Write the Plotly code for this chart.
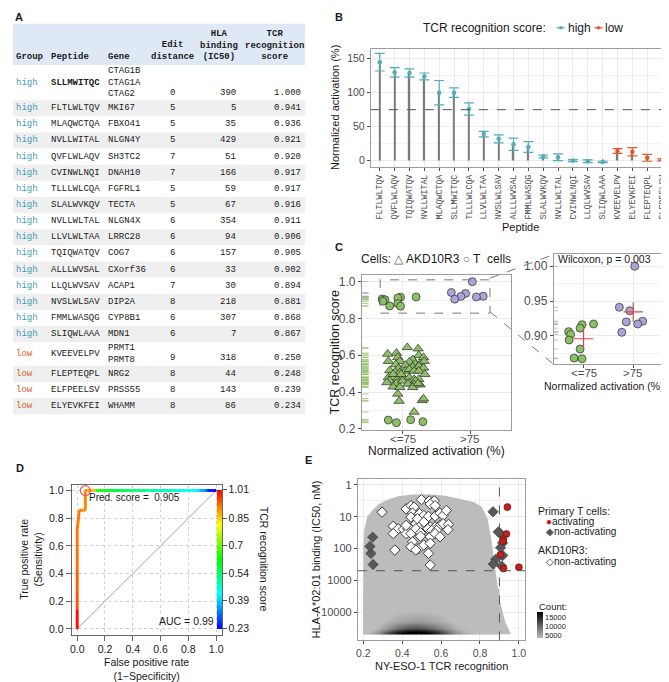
import numpy as np
import plotly.graph_objects as go
from plotly.colors import sample_colorscale

W, H = 669, 682
SANS = "Liberation Sans, Arial, Helvetica, sans-serif"
MONO = "Liberation Mono, Courier New, monospace"
TEXT = "#1a1a1a"
TICK = "#4d4d4d"
TEAL = "#52adb9"
TEAL_TXT = "#3f9db3"
ORANGE = "#de5b28"
GREEN = "#8dc066"
PURPLE = "#aaa5d6"
RED = "#c41d1d"

# ---------------- Panel A: table ----------------
groups = ["high"] * 16 + ["low"] * 4
peptides = ["SLLMWITQC", "FLTLWLTQV", "MLAQWCTQA", "NVLLWITAL", "QVFLWLAQV", "CVINWLNQI",
            "TLLLWLCQA", "SLALWVKQV", "NVLLWLTAL", "LLVLWLTAA", "TQIQWATQV", "ALLLWVSAL",
            "LLQLWVSAV", "NVSLWLSAV", "FMMLWASQG", "SLIQWLAAA", "KVEEVELPV", "FLEPTEQPL",
            "ELFPEELSV", "ELYEVKFEI"]
genes = ["CTAG1B<br>CTAG1A<br>CTAG2", "MKI67", "FBXO41", "NLGN4Y", "SH3TC2", "DNAH10", "FGFRL1",
         "TECTA", "NLGN4X", "LRRC28", "COG7", "CXorf36", "ACAP1", "DIP2A", "CYP8B1", "MDN1",
         "PRMT1<br>PRMT8", "NRG2", "PRSS55", "WHAMM"]
edit_dist = [0, 5, 5, 5, 7, 7, 5, 5, 6, 6, 6, 6, 7, 8, 6, 6, 9, 8, 8, 8]
hla_ic50 = [390, 5, 35, 429, 51, 166, 59, 67, 354, 94, 157, 33, 30, 218, 307, 7, 318, 44, 143, 86]
tcr_score = [1.000, 0.941, 0.936, 0.921, 0.920, 0.917, 0.917, 0.916, 0.911, 0.906, 0.905, 0.902,
             0.894, 0.881, 0.868, 0.867, 0.250, 0.248, 0.239, 0.234]

# ---------------- Panel B ----------------
b_peptides = ["FLTLWLTQV", "QVFLWLAQV", "TQIQWATQV", "NVLLWITAL", "MLAQWCTQA", "SLLMWITQC",
              "TLLLWLCQA", "LLVLWLTAA", "NVSLWLSAV", "ALLLWVSAL", "FMMLWASQG", "SLALWVKQV",
              "NVLLWLTAL", "CVINWLNQI", "LLQLWVSAV", "SLIQWLAAA", "KVEEVELPV", "ELYEVKFEI",
              "FLEPTEQPL", "ELFPEELSV"]
b_activation = [145, 130, 129, 124, 100, 100, 76, 39, 32, 24, 20, 6, 5, 0, -1, -2, 14, 13, 4, 1]
b_error = [13, 7, 6, 5, 18, 7, 9, 4, 6, 9, 8, 2, 5, 1.5, 2, 1, 3.5, 6, 5, 1.5]
b_group = ["high"] * 16 + ["low"] * 4

# ---------------- Panel C ----------------
c_categories = ["&lt;=75", "&gt;75"]
c_tcell_jitter = [0.03, -0.28, -0.07, 0.19, -0.14, 0.20, 0.09, -0.03, -0.07, -0.30, -0.23,
                  -0.26, -0.29, -0.07, -0.19, -0.03, 0.12, -0.21, 0.30, -0.09]
akd_score = [0.643, 0.636, 0.612, 0.607, 0.589, 0.600, 0.589, 0.577, 0.568, 0.568, 0.564, 0.554,
             0.554, 0.568, 0.550, 0.547, 0.536, 0.541, 0.532, 0.529, 0.518, 0.509, 0.506, 0.515,
             0.524, 0.515, 0.515, 0.497, 0.479, 0.479, 0.470, 0.483, 0.479, 0.470, 0.470, 0.452,
             0.461, 0.461, 0.447, 0.461, 0.444, 0.440, 0.440, 0.429, 0.426, 0.426, 0.447, 0.390,
             0.351, 0.355, 0.364, 0.292, 0.497, 0.452, 0.497]
akd_jitter = [0.07, 0.23, -0.09, -0.22, -0.07, 0.24, 0.31, 0.15, -0.21, -0.04, 0.10, 0.19,
              0.26, 0.32, -0.10, 0.04, 0.15, 0.24, 0.31, -0.06, -0.19, -0.11, -0.04, 0.04,
              0.10, 0.17, 0.24, 0.33, -0.21, -0.14, -0.07, 0.01, 0.10, 0.17, 0.24, 0.10,
              0.19, -0.19, -0.09, 0.00, 0.08, 0.17, 0.26, -0.14, -0.04, 0.15, 0.23, -0.07,
              -0.05, 0.29, 0.31, 0.17, -0.14, -0.23, -0.02]
wilcox_label = "Wilcoxon, p = 0.003"

# ---------------- Panel D ----------------
auc_label = "AUC = 0.99"
pred_cutoff = 0.905
cutoff_ticks = [1.01, 0.85, 0.7, 0.54, 0.39, 0.23]

# ---------------- Panel E ----------------
e_akd_score = [0.296, 0.42, 0.445, 0.461, 0.499, 0.539, 0.565, 0.544, 0.569, 0.453, 0.478, 0.445,
               0.489, 0.511, 0.535, 0.569, 0.594, 0.61, 0.627, 0.354, 0.379, 0.406, 0.428, 0.453,
               0.47, 0.486, 0.523, 0.544, 0.569, 0.594, 0.61, 0.638, 0.42, 0.445, 0.47, 0.494,
               0.532, 0.552, 0.577, 0.635, 0.354, 0.453, 0.494, 0.544, 0.569, 0.594, 0.445, 0.486,
               0.47, 0.511, 0.535, 0.544, 0.362, 0.544, 0.478, 0.511, 0.42]
e_akd_ic50 = [7.2, 5.7, 4.5, 5.0, 2.9, 3.2, 3.2, 4.0, 4.5, 7.7, 9.2, 10.3, 8.1, 9.2, 9.8, 9.6, 7.7,
              9.2, 6.4, 20, 24, 25, 24, 21, 16.6, 21, 18.8, 21, 21, 18.8, 16.6, 17.5, 34, 34, 24,
              32, 24, 27, 27, 25.6, 34, 62, 41, 43, 34, 43, 88, 100, 112, 78, 142, 69, 112, 330,
              11.6, 14.7, 18.8]
cloud_x = [0.20, 0.20, 0.205, 0.22, 0.25, 0.28, 0.32, 0.38, 0.45, 0.55, 0.62, 0.70, 0.77, 0.81,
           0.84, 0.86, 0.88, 0.90, 0.93, 0.96]
cloud_ic50 = [50000, 80, 25, 10, 6, 4, 3, 2.3, 2.0, 2.0, 2.2, 2.8, 3.5, 5, 12, 60, 500, 4000,
              20000, 50000]
dens_x = [0.225, 0.275, 0.325, 0.375, 0.425, 0.475, 0.525, 0.575, 0.625, 0.675, 0.725, 0.775,
          0.825, 0.875]
dens_ic50 = [3200, 10000, 20000, 31600, 41700, 47900]
dens_count = [
    [1500, 1500, 1500, 1500, 1500, 1500, 1500, 1500, 1500, 1500, 1500, 1500, 1500, 1500],
    [1500, 2000, 2500, 3000, 3300, 3400, 3300, 3000, 2500, 2000, 1800, 1500, 1500, 1500],
    [1800, 2500, 3500, 4500, 5200, 5500, 5200, 4500, 3500, 2800, 2200, 1800, 1500, 1500],
    [2200, 3500, 6000, 9000, 11000, 11500, 10500, 8500, 6000, 4000, 2800, 2200, 1800, 1500],
    [3000, 5500, 10000, 14500, 17000, 17500, 16500, 13500, 9000, 5500, 3600, 2600, 2000, 1500],
    [3200, 6500, 12000, 16500, 17500, 17500, 17500, 15000, 10500, 6500, 4000, 2800, 2000, 1500],
]
count_ticks = [5000, 10000, 15000]
e_ic50_cut = 500
e_score_cut = 0.9


def fx(x):
    return x / W


def fy(y):
    return 1 - y / H


annotations = []
shapes = []


def text(x, y, s, size=11, color=TEXT, xanchor="left", yanchor="middle", family=SANS, angle=0, align="left"):
    annotations.append(dict(x=fx(x), y=fy(y), xref="paper", yref="paper", text=s, showarrow=False,
                            xanchor=xanchor, yanchor=yanchor, textangle=angle, align=align,
                            font=dict(size=size, color=color, family=family)))


def rect_px(x0, y0, x1, y1, fill):
    shapes.append(dict(type="rect", xref="paper", yref="paper", x0=fx(x0), x1=fx(x1), y0=fy(y1), y1=fy(y0),
                       fillcolor=fill, line=dict(width=0), layer="below"))


def line_px(x0, y0, x1, y1, color, width=1, dash="solid"):
    shapes.append(dict(type="line", xref="paper", yref="paper", x0=fx(x0), x1=fx(x1), y0=fy(y0), y1=fy(y1),
                       line=dict(color=color, width=width, dash=dash)))


def axis_label(xref, xval, ypx, s, size):
    annotations.append(dict(x=xval, xref=xref, y=fy(ypx), yref="paper", text=s, showarrow=False,
                            xanchor="center", yanchor="middle", font=dict(size=size, color=TICK, family=SANS)))


fig = go.Figure()

# ================= Panel A (table) =================
text(3, 8, "<b>A</b>", size=11)
rect_px(3, 15, 297, 56.5, "#dfe9f6")
text(4, 48, "<b>Group</b>", 9, family=MONO)
text(39, 48, "<b>Peptide</b>", 9, family=MONO)
text(97, 48, "<b>Gene</b>", 9, family=MONO)
text(163, 42.5, "<b>Edit<br>distance</b>", 9, family=MONO, xanchor="center", align="center")
text(210, 37, "<b>HLA<br>binding<br>(IC50)</b>", 9, family=MONO, xanchor="center", align="center")
text(266, 37, "<b>TCR<br>recognition<br>score</b>", 9, family=MONO, xanchor="center", align="center")
top = 56.5
for i in range(len(peptides)):
    n = genes[i].count("<br>") + 1
    h = 16.3 if n == 1 else 11.7 * n + 0.5
    y0, y1 = top, top + h
    yc = (y0 + y1) / 2
    if i % 2 == 1:
        rect_px(3, y0, 297, y1, "#efefef")
    gcol = TEAL_TXT if groups[i] == "high" else ORANGE
    text(4, yc, groups[i], 9, color=gcol, family=MONO)
    pep = "<b>%s</b>" % peptides[i] if i == 0 else peptides[i]
    text(39, yc, pep, 9, family=MONO)
    text(97, yc, genes[i], 9, family=MONO)
    yn = y1 - 7.5 if n > 1 else yc
    text(163, yn, str(edit_dist[i]), 9, family=MONO, xanchor="center")
    text(229, yn, str(hla_ic50[i]), 9, family=MONO, xanchor="right")
    text(295, yn, "%.3f" % tcr_score[i], 9, family=MONO, xanchor="right")
    top = y1

# ================= Panel B =================
text(325, 8, "<b>B</b>", size=11)
fig.add_trace(go.Bar(x=b_peptides, y=b_activation, width=0.1, marker=dict(color="#7c7c7c", line=dict(width=0)),
                     xaxis="x", yaxis="y", hoverinfo="skip"))
for grp, col in (("high", TEAL), ("low", ORANGE)):
    idx = [i for i, g in enumerate(b_group) if g == grp]
    fig.add_trace(go.Scatter(x=[b_peptides[i] for i in idx], y=[b_activation[i] for i in idx], mode="markers",
                             marker=dict(color=col, size=4.5),
                             error_y=dict(type="data", array=[b_error[i] for i in idx], color=col,
                                          thickness=1.2, width=5),
                             xaxis="x", yaxis="y"))
shapes.append(dict(type="line", xref="x domain", yref="y", x0=0, x1=1, y0=75, y1=75,
                   line=dict(color="#555555", width=1, dash="dash")))
text(413, 19, "TCR recognition score:", 12)
for xs, col, lab in ((550, TEAL, "high"), (588, ORANGE, "low")):
    line_px(xs, 19, xs + 8, 19, col, 1.3)
    shapes.append(dict(type="circle", xref="paper", yref="paper", x0=fx(xs + 2.3), x1=fx(xs + 5.7),
                       y0=fy(20.7), y1=fy(17.3), fillcolor=col, line=dict(width=0)))
    text(xs + 9, 19, lab, 12)
text(514, 220, "Peptide", 11, xanchor="center")
text(327, 100, "Normalized activation (%)", 11, xanchor="center", angle=-90)

# ================= Panel C =================
text(325, 240, "<b>C</b>", size=11)
act = dict(zip(b_peptides, b_activation))
tc_cls = [1 if act[p] > 75 else 0 for p in peptides]
tc_x = [c + j for c, j in zip(tc_cls, c_tcell_jitter)]
tc_col = [PURPLE if c else GREEN for c in tc_cls]

for s in akd_score:
    shapes.append(dict(type="line", xref="x2 domain", yref="y2", x0=0, x1=0.045, y0=s, y1=s,
                       line=dict(color=GREEN, width=0.8)))
for s, c in zip(tcr_score, tc_cls):
    shapes.append(dict(type="line", xref="x2 domain", yref="y2", x0=0, x1=0.045, y0=s, y1=s,
                       line=dict(color=PURPLE if c else GREEN, width=0.8)))
fig.add_trace(go.Scatter(x=akd_jitter, y=akd_score, mode="markers",
                         marker=dict(symbol="triangle-up", size=9, color=GREEN,
                                     line=dict(color="#2b2b2b", width=0.7)),
                         xaxis="x2", yaxis="y2"))
fig.add_trace(go.Scatter(x=tc_x, y=tcr_score, mode="markers",
                         marker=dict(symbol="circle", size=8, color=tc_col,
                                     line=dict(color="#2b2b2b", width=0.7)),
                         xaxis="x2", yaxis="y2"))
shapes.append(dict(type="rect", xref="x2", yref="y2", x0=-0.33, x1=1.29, y0=0.829, y1=1.01,
                   line=dict(color="#777777", width=1, dash="dash")))
line_px(483, 272, 547, 248, "#777777", 1, "dash")
line_px(483, 306, 547, 359, "#777777", 1, "dash")
text(351, 253, "Cells: <span style='color:#666'>\u25b3</span> AKD10R3 <span style='color:#666'>\u25cb</span> T\u00a0 cells", 12)
text(327, 347, "TCR recognition score", 12.5, xanchor="center", angle=-90)
for ci, cl in enumerate(c_categories):
    axis_label("x2", ci, 434, cl, 11.5)
    axis_label("x3", ci, 368, cl, 11.5)
text(429, 447, "Normalized activation (%)", 12, xanchor="center")

# inset
ins = [i for i, s in enumerate(tcr_score) if s > 0.85]
for i in ins:
    shapes.append(dict(type="line", xref="x3 domain", yref="y3", x0=0, x1=0.04, y0=tcr_score[i], y1=tcr_score[i],
                       line=dict(color="#b0b0b0", width=0.8)))
fig.add_trace(go.Scatter(x=[tc_x[i] for i in ins], y=[tcr_score[i] for i in ins], mode="markers",
                         marker=dict(symbol="circle", size=8, color=[tc_col[i] for i in ins],
                                     line=dict(color="#2b2b2b", width=0.7)),
                         xaxis="x3", yaxis="y3"))
means_x, means_y = [], []
for c in (0, 1):
    vals = [tcr_score[i] for i in ins if tc_cls[i] == c]
    means_x.append(c)
    means_y.append(float(np.mean(vals)))
fig.add_trace(go.Scatter(x=means_x, y=means_y, mode="markers",
                         marker=dict(symbol="cross-thin", size=14, line=dict(color="#e8424a", width=1.2)),
                         xaxis="x3", yaxis="y3"))
text(549, 253, wilcox_label, 10.5)
text(598, 381, "Normalized activation (%)", 10.5, xanchor="center")

# ================= Panel D =================
text(4, 464, "<b>D</b>", size=11)
RAINBOW = [[0, "#0000ff"], [0.25, "#00ffff"], [0.5, "#00ff00"], [0.75, "#ffff00"], [1, "#ff0000"]]
cmin, cmax = min(cutoff_ticks), max(cutoff_ticks)
pos = np.array([s for s, c in zip(tcr_score, tc_cls) if c == 1])
neg = np.array([s for s, c in zip(tcr_score, tc_cls) if c == 0] + akd_score)
thr = sorted(set(pos.tolist() + neg.tolist()), reverse=True)
fpr, tpr, cut = [0.0], [0.0], [cmax]
for t in thr:
    fpr.append(float(np.mean(neg >= t)))
    tpr.append(float(np.mean(pos >= t)))
    cut.append(t)
shapes.append(dict(type="line", xref="x4", yref="y4", x0=0, y0=0, x1=1, y1=1,
                   line=dict(color="#8a8a8a", width=0.8), layer="below"))
for i in range(len(fpr) - 1):
    p = (cut[i + 1] - cmin) / (cmax - cmin)
    col = sample_colorscale(RAINBOW, [min(max(p, 0), 1)])[0]
    fig.add_trace(go.Scatter(x=[fpr[i], fpr[i + 1]], y=[tpr[i], tpr[i + 1]], mode="lines",
                             line=dict(color=col, width=3), xaxis="x4", yaxis="y4", hoverinfo="skip"))
fig.add_trace(go.Scatter(x=fpr, y=tpr, mode="markers",
                         marker=dict(size=1, color=cut, colorscale=RAINBOW, cmin=cmin, cmax=cmax, showscale=True,
                                     colorbar=dict(x=fx(208), xanchor="left", y=fy(556), yanchor="middle",
                                                   len=140 / H, lenmode="fraction", thickness=5, outlinewidth=0,
                                                   xpad=0, ypad=0, tickvals=cutoff_ticks,
                                                   ticktext=[str(v) for v in cutoff_ticks],
                                                   ticks="outside", ticklen=5, tickcolor="#555",
                                                   tickfont=dict(size=10.5, color=TEXT, family=SANS))),
                         xaxis="x4", yaxis="y4", hoverinfo="skip"))
k = cut.index(pred_cutoff)
fig.add_trace(go.Scatter(x=[fpr[k]], y=[tpr[k]], mode="markers",
                         marker=dict(symbol="circle-open", size=10, color="#e8575a", line=dict(width=1.2)),
                         xaxis="x4", yaxis="y4"))
text(77, 494, "Pred. score =\u00a0 %.3f" % pred_cutoff, 10)
text(207, 618, auc_label, 10.5, xanchor="right")
text(137, 667, "False positive rate<br>(1\u2212Specificity)", 10.5, xanchor="center", align="center")
text(21.5, 556, "True positive rate<br>(Sensitivity)", 10.5, xanchor="center", align="center", angle=-90)
text(255, 556, "TCR recognition score", 10.5, xanchor="center", angle=90)

# ================= Panel E =================
text(295, 456, "<b>E</b>", size=11)
cloud_y = np.log10(cloud_ic50)
path = "M " + " L ".join("%g,%g" % (a, b) for a, b in zip(cloud_x, cloud_y)) + " Z"
shapes.append(dict(type="path", xref="x5", yref="y5", path=path, fillcolor="#bcbcbc",
                   line=dict(width=0), layer="between"))
fig.add_trace(go.Heatmap(x=dens_x, y=np.log10(dens_ic50), z=dens_count, zmin=3000, zmax=17500,
                         colorscale=[[0, "#bcbcbc"], [1, "#000000"]], zsmooth="best",
                         xaxis="x5", yaxis="y5", hoverinfo="skip",
                         colorbar=dict(x=fx(530), xanchor="left", y=fy(636), yanchor="bottom",
                                       len=26 / H, lenmode="fraction", thickness=6, outlinewidth=0,
                                       xpad=0, ypad=0, tickvals=count_ticks,
                                       ticktext=[str(v) for v in count_ticks], ticks="",
                                       tickfont=dict(size=7.5, color=TEXT, family=SANS))))
text(530, 604, "Count:", 9.5)
shapes.append(dict(type="line", xref="x5", yref="y5 domain", x0=e_score_cut, x1=e_score_cut, y0=0, y1=1,
                   line=dict(color="#555555", width=1, dash="dash")))
shapes.append(dict(type="line", xref="x5 domain", yref="y5", x0=0, x1=1, y0=np.log10(e_ic50_cut),
                   y1=np.log10(e_ic50_cut), line=dict(color="#555555", width=1, dash="dash")))
fig.add_trace(go.Scatter(x=e_akd_score, y=np.log10(e_akd_ic50), mode="markers",
                         marker=dict(symbol="diamond", size=8, color="white", line=dict(color="#2b2b2b", width=0.9)),
                         xaxis="x5", yaxis="y5"))
na = [i for i, c in enumerate(tc_cls) if c == 0]
ac = [i for i, c in enumerate(tc_cls) if c == 1]
fig.add_trace(go.Scatter(x=[tcr_score[i] for i in na], y=np.log10([hla_ic50[i] for i in na]), mode="markers",
                         marker=dict(symbol="diamond", size=8, color="#585858", line=dict(color="#3a3a3a", width=0.6)),
                         xaxis="x5", yaxis="y5"))
fig.add_trace(go.Scatter(x=[tcr_score[i] for i in ac], y=np.log10([hla_ic50[i] for i in ac]), mode="markers",
                         marker=dict(symbol="circle", size=7, color=RED, line=dict(color="#5a1010", width=0.6)),
                         xaxis="x5", yaxis="y5"))
text(529, 507, "Primary T cells:", 10.5)
text(537, 517.5, "<span style='color:%s'>\u25cf</span>activating" % RED, 10)
text(537, 528, "<span style='color:#585858'>\u25c6</span>non-activating", 10)
text(529, 547, "AKD10R3:", 10.5)
text(537, 558, "<span style='color:#333'>\u25c7</span>non-activating", 10)
text(308, 556, "HLA-A*02:01 binding (IC50, nM)", 11, xanchor="center", angle=-90)
text(434, 664, "NY-ESO-1 TCR recognition", 11, xanchor="center")


# ================= Axes =================
def dom_x(l, r):
    return [l / W, r / W]


def dom_y(t, b):
    return [1 - b / H, 1 - t / H]


def gg(domain, anchor, **kw):
    d = dict(domain=domain, anchor=anchor, showline=True, linecolor="#9c9c9c", linewidth=1, mirror=True,
             ticks="outside", ticklen=3, tickcolor="#4d4d4d", tickwidth=1, showgrid=True, gridcolor="#ebebeb",
             gridwidth=1, zeroline=False, tickfont=dict(family=SANS, size=11, color=TICK))
    d.update(kw)
    return d


MINOR = dict(showgrid=True, gridcolor="#f3f3f3", gridwidth=0.6, ticks="")

layout_axes = dict(
    xaxis=gg(dom_x(363, 665), "y", type="category", categoryorder="array", categoryarray=b_peptides,
             range=[-0.6, 19.6], tickangle=-90, tickfont=dict(family=MONO, size=8.3, color=TICK)),
    yaxis=gg(dom_y(40, 160), "x", range=[-10, 165], tickvals=[0, 50, 100, 150],
             minor=dict(tickvals=[25, 75, 125], **MINOR), tickfont=dict(family=SANS, size=10.5, color=TICK)),
    xaxis2=gg(dom_x(354, 504), "y2", range=[-0.6, 1.6], tickvals=[0, 1], showticklabels=False),
    yaxis2=gg(dom_y(269, 425), "x2", range=[0.196, 1.035], tickvals=[0.2, 0.4, 0.6, 0.8, 1.0],
              ticktext=["0.2", "0.4", "0.6", "0.8", "1.0"], minor=dict(tickvals=[0.3, 0.5, 0.7, 0.9], **MINOR),
              tickfont=dict(family=SANS, size=12, color=TICK)),
    xaxis3=gg(dom_x(547, 657), "y3", range=[-0.6, 1.6], tickvals=[0, 1], showticklabels=False),
    yaxis3=gg(dom_y(248, 359), "x3", range=[0.859, 1.017], tickvals=[0.9, 0.95, 1.0],
              ticktext=["0.90", "0.95", "1.00"], minor=dict(tickvals=[0.875, 0.925, 0.975], **MINOR),
              tickfont=dict(family=SANS, size=12, color=TICK)),
    xaxis4=dict(domain=dom_x(62, 213), anchor="y4", range=[-0.04, 1.04], tickvals=[0, 0.2, 0.4, 0.6, 0.8, 1.0],
                ticktext=["0.0", "0.2", "0.4", "0.6", "0.8", "1.0"], showline=True, mirror=True,
                linecolor="#666", ticks="outside", ticklen=5, tickcolor="#666", showgrid=True,
                gridcolor="#d0d0d0", griddash="dot", zeroline=False,
                tickfont=dict(family=SANS, size=10.5, color=TEXT)),
    yaxis4=dict(domain=dom_y(481, 632), anchor="x4", range=[-0.04, 1.04], tickvals=[0, 0.2, 0.4, 0.6, 0.8, 1.0],
                ticktext=["0.0", "0.2", "0.4", "0.6", "0.8", "1.0"], showline=True, mirror=True,
                linecolor="#666", ticks="outside", ticklen=5, tickcolor="#666", showgrid=True,
                gridcolor="#d0d0d0", griddash="dot", zeroline=False,
                tickfont=dict(family=SANS, size=10.5, color=TEXT)),
    xaxis5=gg(dom_x(350, 518), "y5", range=[0.172, 1.031], tickvals=[0.2, 0.4, 0.6, 0.8, 1.0],
              ticktext=["0.2", "0.4", "0.6", "0.8", "1.0"], minor=dict(tickvals=[0.3, 0.5, 0.7, 0.9], **MINOR),
              tickfont=dict(family=SANS, size=10.5, color=TICK)),
    yaxis5=gg(dom_y(475, 638), "x5", range=[4.89, -0.18], tickvals=[0, 1, 2, 3, 4],
              ticktext=["1", "10", "100", "1000", "10000"], minor=dict(tickvals=[0.5, 1.5, 2.5, 3.5, 4.5], **MINOR)),
)

fig.update_layout(width=W, height=H, margin=dict(l=0, r=0, t=0, b=0), showlegend=False,
                  paper_bgcolor="white", plot_bgcolor="white", annotations=annotations, shapes=shapes,
                  font=dict(family=SANS, color=TEXT), **layout_axes)
fig.write_html("out.html")
